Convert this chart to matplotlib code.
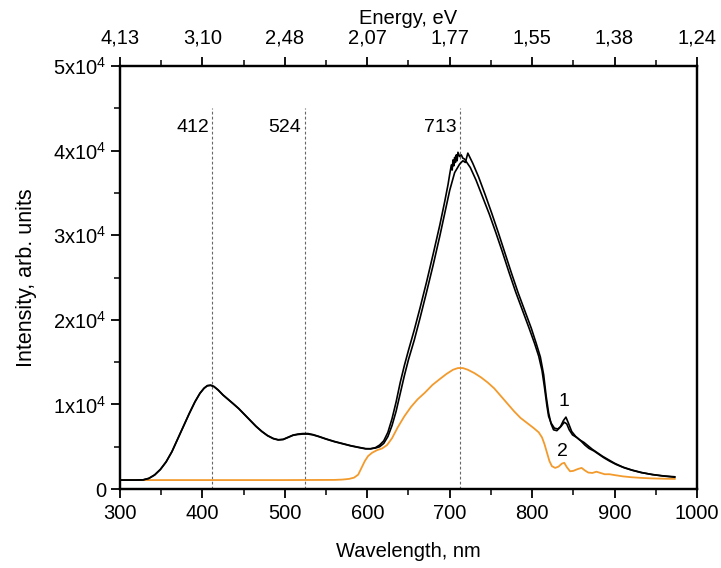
import matplotlib
matplotlib.use("Agg")
import matplotlib.pyplot as plt
from matplotlib.ticker import FixedLocator, MultipleLocator

plt.rcParams['font.family'] = ['Liberation Sans', 'DejaVu Sans']
plt.rcParams['mathtext.fontset'] = 'custom'
plt.rcParams['mathtext.rm'] = 'Liberation Sans'
plt.rcParams['mathtext.it'] = 'Liberation Sans'

# Spectrum 1, first scan
wl_1a = [300, 320, 328, 335, 342, 349, 356, 363, 370, 377, 384, 391, 397, 402, 406,
         410, 414, 419, 425, 431, 437, 444, 451, 458, 465, 472, 479, 486, 492, 498,
         504, 510, 516, 522, 528, 534, 541, 550, 560, 570, 580, 590, 598, 604, 610,
         615, 620, 625, 630, 635, 640, 645, 650, 657, 664, 672, 680, 688, 694, 698,
         700, 702, 703, 704, 705, 706, 707, 708, 709, 710, 712, 714, 716, 718, 725,
         732, 740, 748, 756, 764, 772, 780, 788, 796, 803, 808, 812, 815, 818, 820,
         823, 827, 831, 835, 839, 842, 845, 849, 854, 859, 864, 869, 875, 881, 887,
         894, 902, 912, 922, 932, 944, 958, 973]
int_1a = [1060, 1060, 1080, 1250, 1650, 2300, 3200, 4400, 5900, 7400, 8900, 10300, 11300, 11900, 12200,
          12250, 12100, 11700, 11100, 10600, 10100, 9500, 8800, 8100, 7400, 6800, 6300, 5950, 5800, 5850,
          6100, 6350, 6450, 6500, 6500, 6400, 6200, 5900, 5600, 5350, 5100, 4900, 4750, 4750, 4900,
          5200, 5700, 6700, 8300, 10300, 12600, 14600, 16400, 18800, 21400, 24500, 27800, 31200, 34000, 36000,
          37200, 38300, 37700, 38900, 38200, 39200, 38600, 39500, 38800, 39800, 39300, 39500, 39100, 39000, 38000,
          36500, 34500, 32500, 30300, 28000, 25600, 23300, 21200, 19100, 17200, 15700, 14000, 12000, 9800, 8600,
          7800, 7200, 7100, 7400, 7900, 7700, 7000, 6400, 6100, 5700, 5200, 4800, 4500, 4100, 3700,
          3300, 2900, 2500, 2200, 1950, 1750, 1550, 1400]

# Spectrum 1, second scan
wl_1b = [300, 320, 328, 335, 342, 349, 356, 363, 370, 377, 384, 391, 397, 402, 406,
         410, 414, 419, 425, 431, 437, 444, 451, 458, 465, 472, 479, 486, 492, 498,
         504, 510, 516, 522, 528, 534, 541, 550, 560, 570, 580, 590, 598, 604, 610,
         615, 620, 625, 630, 635, 640, 645, 650, 657, 664, 672, 680, 688, 694, 700,
         706, 712, 716, 719, 722, 728, 735, 743, 751, 759, 767, 775, 783, 791, 799,
         805, 810, 814, 817, 820, 823, 826, 830, 834, 838, 841, 844, 848, 853, 858,
         863, 868, 873, 879, 885, 892, 900, 910, 921, 933, 946, 960, 973]
int_1b = [1060, 1060, 1090, 1270, 1680, 2330, 3230, 4430, 5930, 7430, 8930, 10330, 11330, 11930, 12230,
          12280, 12130, 11730, 11130, 10630, 10130, 9530, 8830, 8130, 7430, 6830, 6330, 5980, 5830, 5880,
          6130, 6380, 6500, 6560, 6560, 6440, 6230, 5930, 5630, 5380, 5130, 4930, 4780, 4770, 4850,
          5000, 5400, 6200, 7500, 9200, 11300, 13400, 15300, 17600, 20200, 23300, 26500, 29900, 32600, 35300,
          37400, 38400, 38800, 38600, 39700, 38500, 36900, 34800, 32600, 30300, 27900, 25500, 23200, 21100, 19000,
          17200, 15600, 13500, 11000, 9000, 7700, 7000, 6900, 7300, 8100, 8500, 7800, 6800, 6200, 5800,
          5500, 5100, 4700, 4300, 3900, 3500, 3050, 2600, 2250, 1950, 1700, 1550, 1450]

# Spectrum 2
wl_2 = [300, 400, 500, 560, 570, 578, 584, 589, 593, 597, 601, 606, 612, 618, 624,
        630, 637, 645, 653, 661, 670, 679, 688, 696, 704, 710, 716, 722, 730, 738,
        746, 754, 762, 770, 778, 786, 794, 802, 808, 812, 815, 818, 821, 824, 828,
        832, 836, 839, 842, 846, 850, 855, 860, 864, 868, 873, 878, 883, 888, 894,
        900, 910, 920, 932, 945, 960, 973]
int_2 = [1060, 1060, 1060, 1080, 1120, 1200, 1350, 1700, 2500, 3300, 3900, 4300, 4600, 4800, 5200,
         6000, 7300, 8600, 9700, 10600, 11400, 12300, 13000, 13600, 14100, 14300, 14300, 14100, 13700, 13200,
         12600, 11900, 11000, 10100, 9200, 8400, 7800, 7200, 6700, 6100, 5300, 4300, 3300, 2700, 2500,
         2650, 3000, 3100, 2600, 2100, 2150, 2350, 2500, 2200, 1950, 1900, 2050, 1900, 1750, 1750,
         1650, 1500, 1400, 1320, 1260, 1220, 1200]

# Marked band maxima (nm)
peaks = [412, 524, 713]

# Axis ticks
x_ticks = [300, 400, 500, 600, 700, 800, 900, 1000]
y_ticks = [0, 10000, 20000, 30000, 40000, 50000]
y_labels = ['0', '1x10$^4$', '2x10$^4$', '3x10$^4$', '4x10$^4$', '5x10$^4$']
energy_labels = [f"{1239.84 / w:.2f}".replace('.', ',') for w in x_ticks]

fig = plt.figure(figsize=(7.21, 5.68), dpi=100)
ax = fig.add_axes([0.1664, 0.139, 0.8003, 0.7448])

orange = '#F39A2C'
ax.plot(wl_2, int_2, color=orange, lw=1.3, zorder=3)
ax.plot(wl_1b, int_1b, color='black', lw=1.2, zorder=4)
ax.plot(wl_1a, int_1a, color='black', lw=1.2, zorder=4)

for p in peaks:
    ax.plot([p, p], [0, 45000], color='#666666', lw=0.8, ls=(0, (2.5, 2)), zorder=2)
    ax.text(p - 4, 42700, str(p), ha='right', va='center', fontsize=14)

ax.text(838, 10300, '1', ha='center', va='center', fontsize=14)
ax.text(837, 4400, '2', ha='center', va='center', fontsize=14)

ax.set_xlim(300, 1000)
ax.set_ylim(0, 50000)
ax.xaxis.set_major_locator(FixedLocator(x_ticks))
ax.xaxis.set_minor_locator(MultipleLocator(50))
ax.set_xticklabels([str(v) for v in x_ticks])
ax.yaxis.set_major_locator(FixedLocator(y_ticks))
ax.yaxis.set_minor_locator(MultipleLocator(5000))
ax.set_yticklabels(y_labels)

ax.tick_params(axis='x', which='major', direction='out', length=6.5, width=1.3,
               labelsize=14.5, pad=4)
ax.tick_params(axis='y', which='major', direction='out', length=6.5, width=1.3,
               labelsize=14.5, pad=3)
ax.tick_params(axis='both', which='minor', direction='out', length=4, width=1.1)
for s in ax.spines.values():
    s.set_linewidth(1.6)

ax.set_xlabel('Wavelength, nm', fontsize=14.5, labelpad=14)
ax.set_ylabel('Intensity, arb. units', fontsize=15.5, labelpad=12)

top = ax.twiny()
top.set_xlim(ax.get_xlim())
top.xaxis.set_major_locator(FixedLocator(x_ticks))
top.xaxis.set_minor_locator(MultipleLocator(50))
top.set_xticklabels(energy_labels)
top.tick_params(axis='x', which='major', direction='out', length=6.5, width=1.3,
                labelsize=14.5, pad=7)
top.tick_params(axis='x', which='minor', direction='out', length=4, width=1.1)
top.set_xlabel('Energy, eV', fontsize=14.5, labelpad=3)
for s in top.spines.values():
    s.set_linewidth(1.6)

fig.savefig('out.png', dpi=100)
